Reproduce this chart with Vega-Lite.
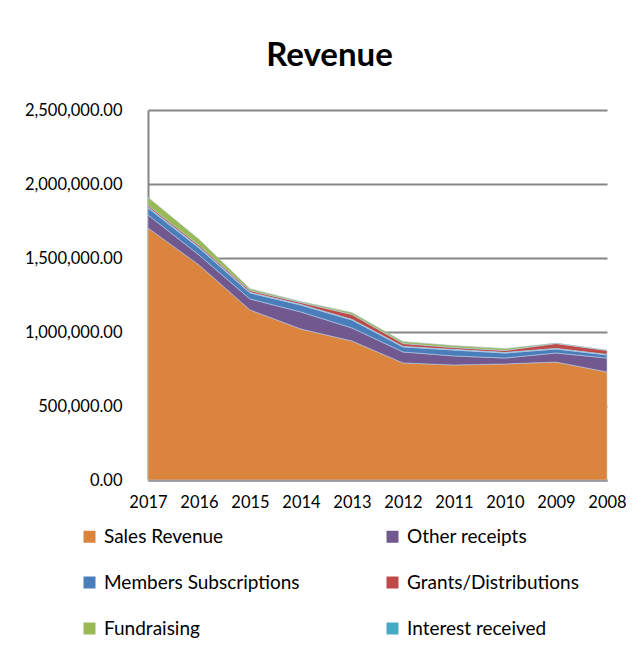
{
  "$schema": "https://vega.github.io/schema/vega-lite/v6.json",
  "autosize": {"type": "none"},
  "padding": {"left": 148, "top": 110, "right": 37, "bottom": 182},
  "width": 459,
  "height": 370,
  "background": "white",
  "title": {
    "text": "Revenue",
    "font": "Lato",
    "fontSize": 33,
    "fontWeight": "bold",
    "color": "#000000",
    "anchor": "middle",
    "frame": "group",
    "dx": -48,
    "offset": 29
  },
  "data": {
    "values": [
      {"year": "2017", "source": "Sales Revenue", "value": 1703000},
      {"year": "2017", "source": "Other receipts", "value": 88000},
      {"year": "2017", "source": "Members Subscriptions", "value": 47000},
      {"year": "2017", "source": "Grants/Distributions", "value": 13000},
      {"year": "2017", "source": "Fundraising", "value": 54000},
      {"year": "2017", "source": "Interest received", "value": 5000},
      {"year": "2016", "source": "Sales Revenue", "value": 1453000},
      {"year": "2016", "source": "Other receipts", "value": 67000},
      {"year": "2016", "source": "Members Subscriptions", "value": 48000},
      {"year": "2016", "source": "Grants/Distributions", "value": 13000},
      {"year": "2016", "source": "Fundraising", "value": 41000},
      {"year": "2016", "source": "Interest received", "value": 5000},
      {"year": "2015", "source": "Sales Revenue", "value": 1149000},
      {"year": "2015", "source": "Other receipts", "value": 74000},
      {"year": "2015", "source": "Members Subscriptions", "value": 41000},
      {"year": "2015", "source": "Grants/Distributions", "value": 13000},
      {"year": "2015", "source": "Fundraising", "value": 13000},
      {"year": "2015", "source": "Interest received", "value": 3000},
      {"year": "2014", "source": "Sales Revenue", "value": 1020000},
      {"year": "2014", "source": "Other receipts", "value": 115000},
      {"year": "2014", "source": "Members Subscriptions", "value": 47000},
      {"year": "2014", "source": "Grants/Distributions", "value": 14000},
      {"year": "2014", "source": "Fundraising", "value": 7000},
      {"year": "2014", "source": "Interest received", "value": 3000},
      {"year": "2013", "source": "Sales Revenue", "value": 939000},
      {"year": "2013", "source": "Other receipts", "value": 88000},
      {"year": "2013", "source": "Members Subscriptions", "value": 54000},
      {"year": "2013", "source": "Grants/Distributions", "value": 34000},
      {"year": "2013", "source": "Fundraising", "value": 13000},
      {"year": "2013", "source": "Interest received", "value": 3000},
      {"year": "2012", "source": "Sales Revenue", "value": 791000},
      {"year": "2012", "source": "Other receipts", "value": 74000},
      {"year": "2012", "source": "Members Subscriptions", "value": 34000},
      {"year": "2012", "source": "Grants/Distributions", "value": 20000},
      {"year": "2012", "source": "Fundraising", "value": 13000},
      {"year": "2012", "source": "Interest received", "value": 3000},
      {"year": "2011", "source": "Sales Revenue", "value": 777000},
      {"year": "2011", "source": "Other receipts", "value": 61000},
      {"year": "2011", "source": "Members Subscriptions", "value": 40000},
      {"year": "2011", "source": "Grants/Distributions", "value": 14000},
      {"year": "2011", "source": "Fundraising", "value": 13000},
      {"year": "2011", "source": "Interest received", "value": 3000},
      {"year": "2010", "source": "Sales Revenue", "value": 784000},
      {"year": "2010", "source": "Other receipts", "value": 40000},
      {"year": "2010", "source": "Members Subscriptions", "value": 34000},
      {"year": "2010", "source": "Grants/Distributions", "value": 14000},
      {"year": "2010", "source": "Fundraising", "value": 13000},
      {"year": "2010", "source": "Interest received", "value": 3000},
      {"year": "2009", "source": "Sales Revenue", "value": 797000},
      {"year": "2009", "source": "Other receipts", "value": 61000},
      {"year": "2009", "source": "Members Subscriptions", "value": 27000},
      {"year": "2009", "source": "Grants/Distributions", "value": 34000},
      {"year": "2009", "source": "Fundraising", "value": 3000},
      {"year": "2009", "source": "Interest received", "value": 3000},
      {"year": "2008", "source": "Sales Revenue", "value": 730000},
      {"year": "2008", "source": "Other receipts", "value": 94000},
      {"year": "2008", "source": "Members Subscriptions", "value": 21000},
      {"year": "2008", "source": "Grants/Distributions", "value": 27000},
      {"year": "2008", "source": "Fundraising", "value": 3000},
      {"year": "2008", "source": "Interest received", "value": 3000}
    ]
  },
  "mark": {"type": "area", "stroke": "#B7C9E2", "strokeWidth": 0.6},
  "encoding": {
    "x": {
      "field": "year",
      "type": "ordinal",
      "sort": "descending",
      "scale": {"type": "point", "padding": 0},
      "axis": {
        "title": null,
        "labelAngle": 0,
        "labelFont": "Lato",
        "labelFontSize": 16.5,
        "labelColor": "#000000",
        "labelPadding": 14,
        "ticks": false,
        "domainColor": "#868686",
        "domainWidth": 2,
        "grid": false
      }
    },
    "y": {
      "field": "value",
      "type": "quantitative",
      "stack": "zero",
      "scale": {"domain": [0, 2500000], "nice": false},
      "axis": {
        "title": null,
        "values": [0, 500000, 1000000, 1500000, 2000000, 2500000],
        "format": ",.2f",
        "labelFont": "Lato",
        "labelFontSize": 16.5,
        "labelColor": "#000000",
        "labelPadding": 26,
        "ticks": false,
        "domainColor": "#868686",
        "domainWidth": 2,
        "grid": true,
        "gridColor": "#868686",
        "gridWidth": 2
      }
    },
    "color": {
      "field": "source",
      "type": "nominal",
      "sort": ["Sales Revenue", "Other receipts", "Members Subscriptions", "Grants/Distributions", "Fundraising", "Interest received"],
      "scale": {
        "domain": ["Sales Revenue", "Other receipts", "Members Subscriptions", "Grants/Distributions", "Fundraising", "Interest received"],
        "range": ["#DB843D", "#71588F", "#4A7EBB", "#BE4B48", "#98B954", "#46AAC5"]
      },
      "legend": {
        "title": null,
        "orient": "none",
        "legendX": -68,
        "legendY": 417,
        "direction": "horizontal",
        "columns": 2,
        "columnPadding": 83,
        "rowPadding": 26,
        "symbolType": "square",
        "symbolSize": 144,
        "symbolStrokeWidth": 0,
        "symbolOpacity": 1,
        "labelFont": "Lato",
        "labelFontSize": 19,
        "labelColor": "#000000",
        "labelOffset": 5,
        "labelLimit": 300
      }
    }
  },
  "config": {
    "view": {"stroke": null}
  }
}
